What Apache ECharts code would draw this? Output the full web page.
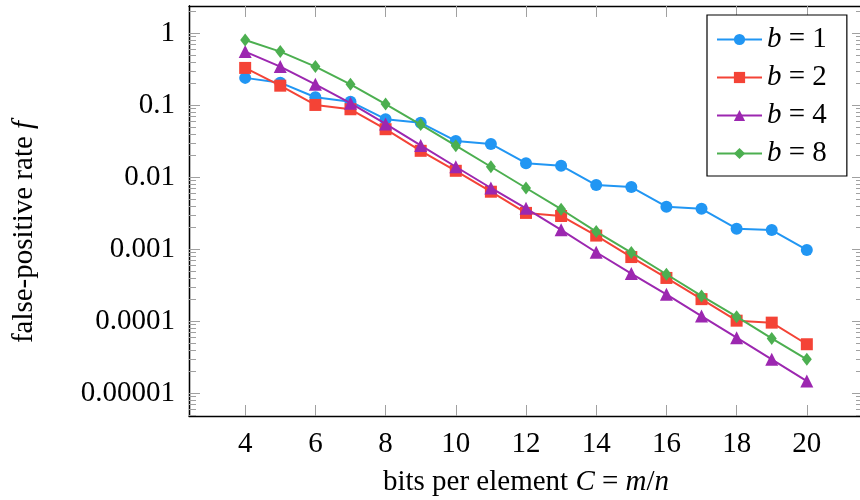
<!DOCTYPE html>
<html>
<head>
<meta charset="utf-8">
<script src="https://cdn.jsdelivr.net/npm/echarts@6/dist/echarts.min.js"></script>
<style>
  html, body { margin: 0; padding: 0; background: #fff; }
  #chart { width: 860px; height: 500px; }
</style>
</head>
<body>
<div id="chart"></div>
<script>
// Bits per element (C = m/n)
const bitsPerElement = [4, 5, 6, 7, 8, 9, 10, 11, 12, 13, 14, 15, 16, 17, 18, 19, 20];

// False-positive rate f for each block size b
const fprB1 = [0.24, 0.206, 0.129, 0.112, 0.064, 0.057, 0.032, 0.029, 0.0157, 0.0145, 0.0078, 0.0073,
               0.0039, 0.00365, 0.00193, 0.00185, 0.00098];
const fprB2 = [0.33, 0.187, 0.101, 0.088, 0.0465, 0.0233, 0.0123, 0.0063, 0.0032, 0.0029, 0.00155, 0.00078,
               0.0004, 0.000203, 0.000102, 0.0000958, 0.000048];
const fprB4 = [0.556, 0.344, 0.195, 0.107, 0.055, 0.0277, 0.014, 0.0071, 0.0037, 0.00186, 0.00091, 0.00046,
               0.000237, 0.000118, 0.0000592, 0.0000296, 0.0000148];
const fprB8 = [0.807, 0.556, 0.344, 0.195, 0.104, 0.054, 0.0275, 0.014, 0.0071, 0.0036, 0.00176, 0.0009,
               0.00045, 0.000225, 0.000116, 0.0000578, 0.0000296];

const seriesNames = ['b = 1', 'b = 2', 'b = 4', 'b = 8'];

// Axis ticks
const xTicks = [4, 6, 8, 10, 12, 14, 16, 18, 20];
const yTicks = [0.00001, 0.0001, 0.001, 0.01, 0.1, 1];
const yTickLabels = ['0.00001', '0.0001', '0.001', '0.01', '0.1', '1'];
// minor ticks at 2..9 within each decade
const yMinorTicks = [];
[0.000001, 0.00001, 0.0001, 0.001, 0.01, 0.1, 1].forEach(function (d) {
  for (let k = 2; k <= 9; k++) yMinorTicks.push(+(d * k).toPrecision(3));
});

const FONT = '"Liberation Serif", "Times New Roman", serif';
const FS = 29;
const TICK_COLOR = '#a0a0a0';

const colors = ['#2196F3', '#F44336', '#9C27B0', '#4CAF50'];
const symbols = ['circle', 'rect', 'triangle', 'diamond'];
const symbolSizes = [12, 12, 13, [10, 13]];
const values = [fprB1, fprB2, fprB4, fprB8];

const chart = echarts.init(document.getElementById('chart'), null, { renderer: 'canvas' });

const X_MIN = 2.4, X_MAX = 21.6;
const Y_MIN = 4.84e-6, Y_MAX = 2.39;

function xAxisCfg(pos, withLabels) {
  return {
    type: 'value', position: pos, min: X_MIN, max: X_MAX,
    axisLine: { show: true, onZero: false, lineStyle: { color: '#000', width: 1.3 } },
    axisTick: { show: true, inside: true, length: 11, customValues: xTicks,
                lineStyle: { color: TICK_COLOR, width: 1 } },
    axisLabel: withLabels ? { show: true, customValues: xTicks, margin: 14,
                fontFamily: FONT, fontSize: FS, color: '#000' } : { show: false },
    splitLine: { show: false },
    name: withLabels ? 'bits per element {i|C} = {i|m}/{i|n}' : '',
    nameLocation: 'middle', nameGap: 52,
    nameTextStyle: { fontFamily: FONT, fontSize: FS, color: '#000',
      rich: { i: { fontFamily: FONT, fontSize: FS, fontStyle: 'italic', color: '#000' } } }
  };
}

function yAxisCfg(pos, ticks, len, withLabels) {
  return {
    type: 'log', logBase: 10, position: pos, min: Y_MIN, max: Y_MAX,
    axisLine: { show: true, onZero: false, lineStyle: { color: '#000', width: 1.3 } },
    axisTick: { show: true, inside: true, length: len, customValues: ticks,
                lineStyle: { color: TICK_COLOR, width: 1 } },
    axisLabel: withLabels ? {
      show: true, customValues: yTicks, margin: 14,
      fontFamily: FONT, fontSize: FS, color: '#000',
      formatter: function (v) {
        const i = yTicks.findIndex(function (t) { return Math.abs(Math.log10(t) - Math.log10(v)) < 1e-6; });
        return i >= 0 ? yTickLabels[i] : '';
      }
    } : { show: false },
    splitLine: { show: false },
    minorTick: { show: false },
    name: withLabels ? 'false-positive rate {i|f}' : '',
    nameLocation: 'middle', nameGap: 150, nameRotate: 90,
    nameTextStyle: { fontFamily: FONT, fontSize: FS, color: '#000', padding: [0, 42, 0, 0],
      rich: { i: { fontFamily: FONT, fontSize: FS, fontStyle: 'italic', color: '#000' } } }
  };
}

const series = seriesNames.map(function (name, s) {
  return {
    name: name, type: 'line', xAxisIndex: 0, yAxisIndex: 0,
    data: bitsPerElement.map(function (x, i) { return [x, values[s][i]]; }),
    symbol: symbols[s], symbolSize: symbolSizes[s], showSymbol: true,
    lineStyle: { color: colors[s], width: 2 },
    itemStyle: { color: colors[s] },
    animation: false, z: 3 + s
  };
});

chart.setOption({
  animation: false,
  backgroundColor: '#fff',
  grid: { left: 189, top: 6, right: -3, bottom: 84, outerBoundsMode: 'none', containLabel: false },
  xAxis: [xAxisCfg('bottom', true), xAxisCfg('top', false)],
  yAxis: [
    yAxisCfg('left', yTicks, 11, true),
    yAxisCfg('right', yTicks, 11, false),
    yAxisCfg('left', yMinorTicks, 7, false),
    yAxisCfg('right', yMinorTicks, 7, false)
  ],
  legend: {
    orient: 'vertical', left: 707, top: 15,
    backgroundColor: '#fff', borderColor: '#000', borderWidth: 1.2,
    padding: [9, 20, 7, 9],
    itemWidth: 45, itemHeight: 14, itemGap: 7,
    data: seriesNames,
    formatter: function (n) { return n.replace(/^b/, '{i|b}'); },
    textStyle: { fontFamily: FONT, fontSize: FS, color: '#000', lineHeight: 31,
      rich: { i: { fontFamily: FONT, fontSize: FS, fontStyle: 'italic', color: '#000', lineHeight: 31 } } }
  },
  series: series
});
</script>
</body>
</html>
